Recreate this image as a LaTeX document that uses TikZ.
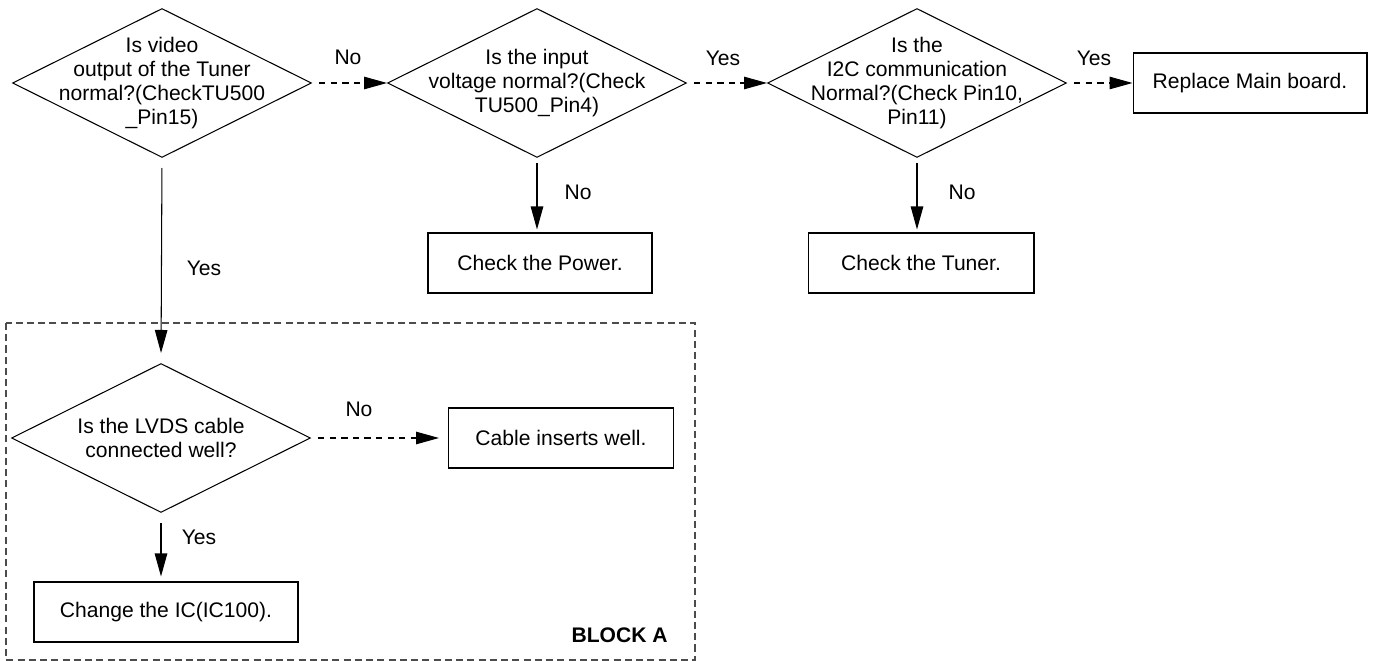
\documentclass[tikz,border=0pt]{standalone}
\usepackage{fontspec}
\setmainfont{Liberation Sans}
\usetikzlibrary{shapes.geometric,arrows.meta,positioning}

\begin{document}
\begin{tikzpicture}[
    x=0.02cm, y=-0.02cm,
    font=\fontsize{12}{13.5}\selectfont,
    line width=0.6pt,
    decision/.style={diamond, draw, aspect=2, inner sep=-0.7cm, minimum width=5.98cm, minimum height=2.98cm, align=center},
    box/.style={rectangle, draw, minimum height=1.2cm, align=center},
    arr/.style={-{Triangle[length=0.46cm, width=0.25cm]}},
    darr/.style={arr, dash pattern=on 3.6pt off 3pt},
    blockline/.style={draw=black!70, dash pattern=on 4pt off 2.4pt}
]
    \useasboundingbox (0,0) rectangle (1374,661);

    % Top row of checks
    \node[decision] (video) at (162,83) {Is video\\output of the Tuner\\normal?(CheckTU500\\\_Pin15)};
    \node[decision] (input) at (537,83) {Is the input\\voltage normal?(Check\\TU500\_Pin4)};
    \node[decision] (iic) at (917,83) {Is the\\I2C communication\\Normal?(Check Pin10,\\Pin11)};
    \node[box, minimum width=4.68cm] (mainboard) at (1250,83) {Replace Main board.};

    % Results below
    \node[box, minimum width=4.48cm] (power) at (540,263) {Check the Power.};
    \node[box, minimum width=4.52cm] (tuner) at (921,263) {Check the Tuner.};

    % Block A
    \draw[blockline] (6,323) rectangle (695,660);
    \node[decision] (lvds) at (161,438) {Is the LVDS cable\\connected well?};
    \node[box, minimum width=4.5cm] (cable) at (561,438) {Cable inserts well.};
    \node[box, minimum width=5.28cm] (ic) at (166,612) {Change the IC(IC100).};
    \node[font=\fontsize{12}{14}\selectfont\bfseries, anchor=east] (blocka) at (674,635) {BLOCK A};

    % Arrows
    \draw[darr, shorten <=0.14cm] (video.east) -- (input.west);
    \draw[darr, shorten <=0.14cm] (input.east) -- (iic.west);
    \draw[darr, shorten <=0.14cm] (iic.east) -- (mainboard.west);
    \draw[arr, shorten <=0.1cm, shorten >=0.06cm] (input.south) -- (input.south |- power.north);
    \draw[arr, shorten <=0.1cm, shorten >=0.06cm] (iic.south) -- (iic.south |- tuner.north);
    \draw[arr, shorten <=0.2cm, shorten >=0.2cm] (video.south) -- (lvds.north);
    \draw[darr, shorten <=0.14cm, shorten >=0.18cm] (lvds.east) -- (cable.west);
    \draw[arr, shorten <=0.2cm, shorten >=0.1cm] (lvds.south) -- (lvds.south |- ic.north);

    % Labels
    \node (no1) at (348,57) {No};
    \node (yes1) at (723,58) {Yes};
    \node (yes2) at (1094,58) {Yes};
    \node (no2) at (578,192) {No};
    \node (no3) at (962,192) {No};
    \node (yes3) at (204,268) {Yes};
    \node (no4) at (359,409) {No};
    \node (yes4) at (199,537) {Yes};
\end{tikzpicture}
\end{document}
